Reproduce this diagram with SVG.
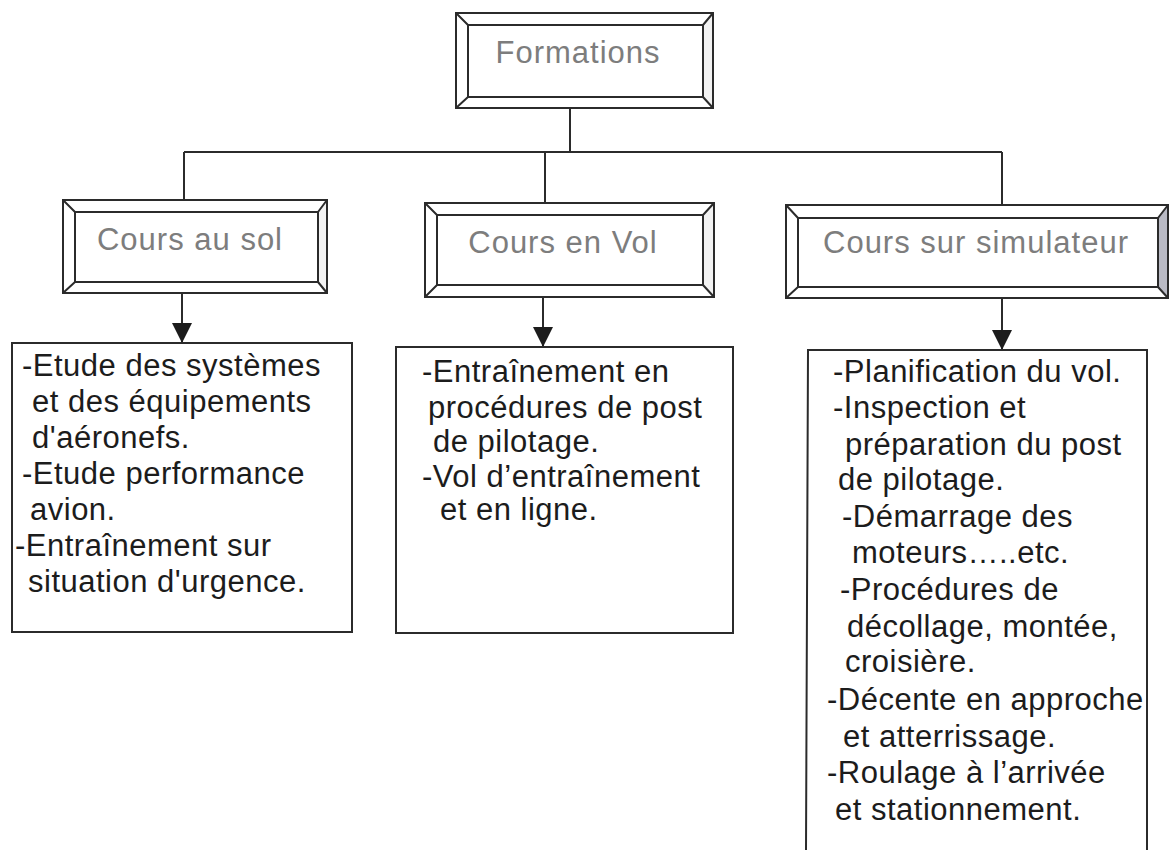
<svg xmlns="http://www.w3.org/2000/svg" width="1170" height="850" viewBox="0 0 1170 850">
  <style>
    .frame { fill: none; stroke: #2b2b2b; stroke-width: 2; }
    .face { fill: #ffffff; }
    .bevel { fill: #f2f2f2; }
    .bevel-dark { fill: #b9bac4; }
    .title { font-family: "Liberation Sans", Arial, sans-serif; font-size: 31px; letter-spacing: 1px; fill: #7d7d7d; text-anchor: middle; }
    .body { font-family: "Liberation Sans", Arial, sans-serif; font-size: 31px; letter-spacing: 0.5px; fill: #1c1c1c; }
    .link { fill: none; stroke: #2b2b2b; stroke-width: 2; }
    .box { fill: #ffffff; stroke: #2b2b2b; stroke-width: 2; }
  </style>
  <defs>
    <marker id="arrow" viewBox="0 0 20 20" refX="20" refY="10" markerWidth="20" markerHeight="20" markerUnits="userSpaceOnUse" orient="auto">
      <path d="M0,0 L20,10 L0,20 z" fill="#1c1c1c"/>
    </marker>
  </defs>

  <rect width="1170" height="850" fill="#ffffff"/>

  <!-- connectors -->
  <g id="connectors">
    <path class="link" d="M570,108 V152"/>
    <path class="link" d="M184,152 H1002"/>
    <path class="link" d="M184,152 V200"/>
    <path class="link" d="M545,152 V203"/>
    <path class="link" d="M1002,152 V205"/>
    <path class="link" d="M182,293 V343" marker-end="url(#arrow)"/>
    <path class="link" d="M543,297 V347" marker-end="url(#arrow)"/>
    <path class="link" d="M1002,298 V350" marker-end="url(#arrow)"/>
  </g>

  <!-- bevelled heading boxes -->
  <g id="formations">
    <rect class="face" x="456" y="13" width="257" height="95"/>
    <polygon class="bevel" points="703,25 713,13 713,108 703,97"/>
    <rect class="frame" x="456" y="13" width="257" height="95"/>
    <rect class="frame" x="468" y="25" width="235" height="72"/>
    <path class="frame" d="M456,13 L468,25 M713,13 L703,25 M456,108 L468,97 M713,108 L703,97"/>
    <text class="title" x="578" y="63">Formations</text>
  </g>

  <g id="cours-sol">
    <rect class="face" x="63" y="200" width="264" height="93"/>
    <polygon class="bevel" points="318,212 327,200 327,293 318,282"/>
    <rect class="frame" x="63" y="200" width="264" height="93"/>
    <rect class="frame" x="75" y="212" width="243" height="70"/>
    <path class="frame" d="M63,200 L75,212 M327,200 L318,212 M63,293 L75,282 M327,293 L318,282"/>
    <text class="title" x="190" y="250">Cours au sol</text>
  </g>

  <g id="cours-vol">
    <rect class="face" x="425" y="203" width="289" height="94"/>
    <polygon class="bevel" points="703,215 714,203 714,297 703,285"/>
    <rect class="frame" x="425" y="203" width="289" height="94"/>
    <rect class="frame" x="437" y="215" width="266" height="70"/>
    <path class="frame" d="M425,203 L437,215 M714,203 L703,215 M425,297 L437,285 M714,297 L703,285"/>
    <text class="title" x="563" y="253">Cours en Vol</text>
  </g>

  <g id="cours-simulateur">
    <rect class="face" x="786" y="205" width="382" height="93"/>
    <polygon class="bevel-dark" points="1158,218 1168,205 1168,298 1158,287"/>
    <rect class="frame" x="786" y="205" width="382" height="93"/>
    <rect class="frame" x="798" y="218" width="360" height="69"/>
    <path class="frame" d="M786,205 L798,218 M1168,205 L1158,218 M786,298 L798,287 M1168,298 L1158,287"/>
    <text class="title" x="976" y="253">Cours sur simulateur</text>
  </g>

  <!-- content boxes -->
  <g id="contenu-sol">
    <rect class="box" x="12" y="343" width="340" height="289"/>
    <text class="body">
      <tspan x="22" y="376">-Etude des systèmes</tspan>
      <tspan x="32" y="412">et des équipements</tspan>
      <tspan x="32" y="448">d'aéronefs.</tspan>
      <tspan x="22" y="484">-Etude performance</tspan>
      <tspan x="30" y="520">avion.</tspan>
      <tspan x="15" y="556">-Entraînement sur</tspan>
      <tspan x="28" y="592">situation d'urgence.</tspan>
    </text>
  </g>

  <g id="contenu-vol">
    <rect class="box" x="396" y="347" width="337" height="286"/>
    <text class="body">
      <tspan x="422" y="382">-Entraînement en</tspan>
      <tspan x="428" y="418">procédures de post</tspan>
      <tspan x="433" y="452">de pilotage.</tspan>
      <tspan x="422" y="487">-Vol d’entraînement</tspan>
      <tspan x="440" y="520">et en ligne.</tspan>
    </text>
  </g>

  <g id="contenu-simulateur">
    <path class="box" d="M808,350 H1147 V852 H806 Z"/>
    <text class="body">
      <tspan x="833" y="382">-Planification du vol.</tspan>
      <tspan x="833" y="418">-Inspection et</tspan>
      <tspan x="845" y="455">préparation du post</tspan>
      <tspan x="838" y="490">de pilotage.</tspan>
      <tspan x="842" y="527">-Démarrage des</tspan>
      <tspan x="852" y="563">moteurs…..etc.</tspan>
      <tspan x="840" y="600">-Procédures de</tspan>
      <tspan x="847" y="637">décollage, montée,</tspan>
      <tspan x="845" y="672">croisière.</tspan>
      <tspan x="827" y="710">-Décente en approche</tspan>
      <tspan x="843" y="747">et atterrissage.</tspan>
      <tspan x="827" y="783">-Roulage à l’arrivée</tspan>
      <tspan x="835" y="820">et stationnement.</tspan>
    </text>
  </g>
</svg>
